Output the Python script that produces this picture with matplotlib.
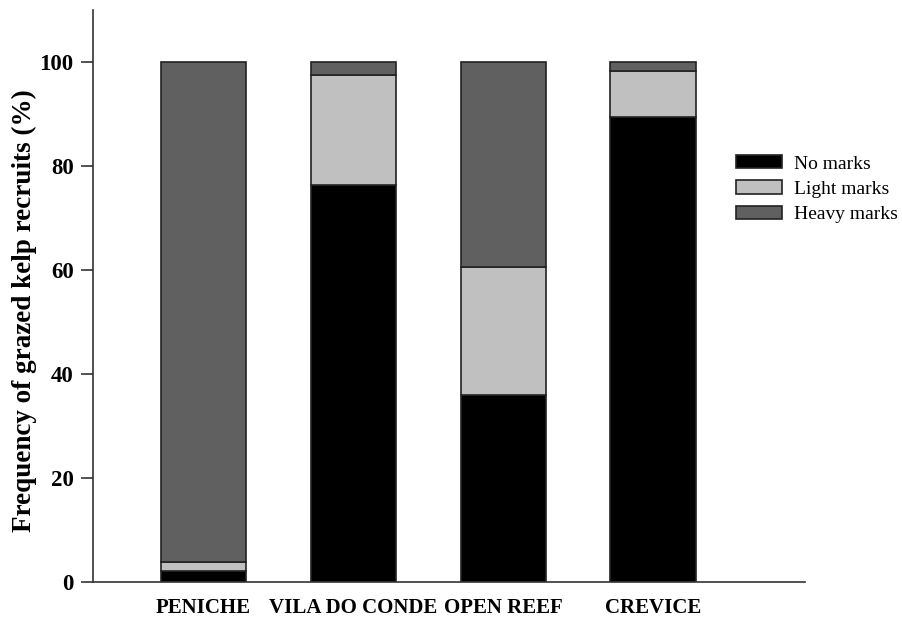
import numpy as np
import matplotlib.pyplot as plt

sites = ['PENICHE', 'VILA DO CONDE', 'OPEN REEF', 'CREVICE']
no_marks = [2.1, 76.3, 36.0, 89.4]
light_marks = [1.8, 21.1, 24.5, 8.8]
heavy_marks = [96.1, 2.6, 39.5, 1.8]
yticks = [0, 20, 40, 60, 80, 100]

plt.rcParams['font.family'] = ['Liberation Serif', 'DejaVu Serif']

fig = plt.figure(figsize=(9.03, 6.17), dpi=100)
ax = fig.add_axes([0.103, 0.057, 0.788, 0.927])

x = np.arange(len(sites))
w = 0.57
edge = dict(edgecolor='#222222', linewidth=1.2)
ax.bar(x, no_marks, w, color='black', label='No marks', **edge)
ax.bar(x, light_marks, w, bottom=no_marks, color='#c0c0c0', label='Light marks', **edge)
bottom2 = np.array(no_marks) + np.array(light_marks)
ax.bar(x, heavy_marks, w, bottom=bottom2, color='#606060', label='Heavy marks', **edge)

ax.set_xlim(-0.737, 4.01)
ax.set_ylim(0, 110)
ax.set_yticks(yticks)
ax.set_yticklabels([str(t) for t in yticks], fontsize=16.5, fontweight='bold')

ax.set_xticks(x)
ax.set_xticklabels(sites, fontsize=15, fontweight='bold')
ax.tick_params(axis='x', length=0, pad=12)
ax.tick_params(axis='y', length=9, width=1.2, direction='out', pad=5, color='#333333')

for s in ['top', 'right']:
    ax.spines[s].set_visible(False)
for s in ['left', 'bottom']:
    ax.spines[s].set_linewidth(1.2)
    ax.spines[s].set_color('#333333')

ax.set_ylabel('Frequency of grazed kelp recruits (%)', fontsize=19.5, fontweight='bold')
ax.yaxis.set_label_coords(-0.079, 0.475)

ax.legend(loc='upper left', bbox_to_anchor=(0.904, 0.746), frameon=False, fontsize=14,
          borderpad=0, borderaxespad=0,
          handlelength=2.37, handleheight=0.67, labelspacing=0.4, handletextpad=0.6)

fig.savefig('out.png', dpi=100)
